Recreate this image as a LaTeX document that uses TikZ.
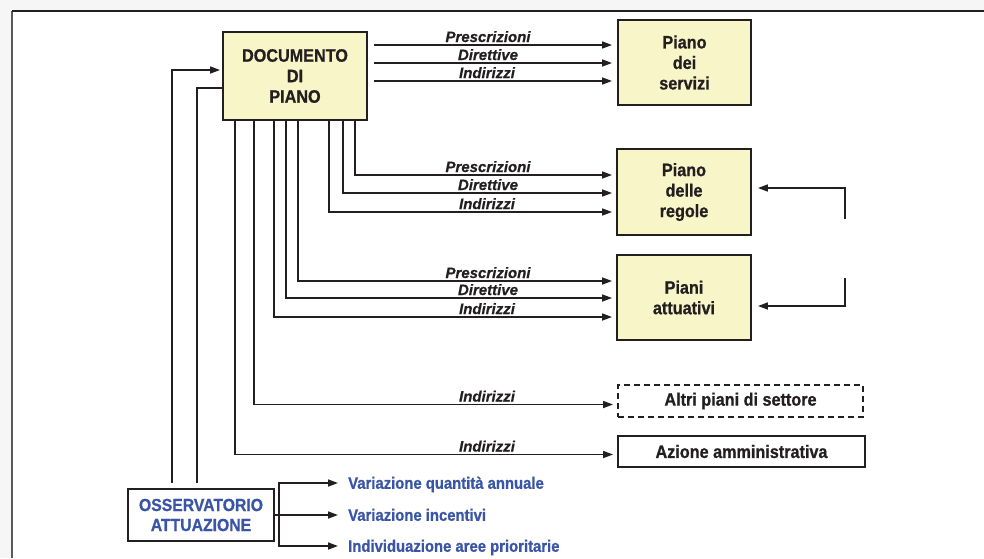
\documentclass[tikz,border=0pt]{standalone}
\usepackage{fontspec}
\setmainfont{Liberation Sans}[FakeStretch=0.9,BoldFeatures={FakeBold=0.8}]
\newfontfamily\lblfont{Liberation Sans}[BoldItalicFeatures={FakeBold=0.5}]
\usetikzlibrary{arrows.meta,calc}
\definecolor{boxfill}{HTML}{F8F5C8}
\definecolor{ink}{HTML}{231F20}
\definecolor{obsblue}{HTML}{3A55A5}
\begin{document}
\begin{tikzpicture}[x=1pt,y=-1pt,
 box/.style={draw=ink,line width=1.9pt,fill=boxfill,align=center,inner sep=0pt,font=\fontsize{18}{20.5}\selectfont\bfseries,text=ink},
 wbox/.style={draw=ink,line width=1.9pt,fill=white,inner sep=0pt,font=\fontsize{18}{20.5}\selectfont\bfseries,text=ink},
 conn/.style={draw=ink,line width=1.6pt},
 arr/.style={conn,-{Triangle[length=10pt,width=7pt]}},
 lbl/.style={font=\lblfont\fontsize{15}{15}\selectfont\bfseries\itshape,text=ink,inner sep=0pt,anchor=base},
 outtxt/.style={font=\fontsize{16.5}{18}\selectfont\bfseries,text=obsblue,inner sep=0pt,anchor=west,text height=11.5pt,text depth=0pt},
]
\useasboundingbox (0,0) rectangle (984,558);
\fill[gray!7] (0,0) rectangle (984,558);
\fill[white] (12,11) rectangle (984,558);
\draw[gray!70!black,line width=1.2pt] (12,558) -- (12,11);
\draw[ink,line width=1.4pt] (12,11) -- (984,11);

% boxes
\node[box,minimum width=144pt,minimum height=88pt] (doc) at (295,76) {DOCUMENTO\\DI\\PIANO};
\node[box,minimum width=133pt,minimum height=85pt] (serv) at (684.5,62.5) {Piano\\dei\\servizi};
\node[box,minimum width=134pt,minimum height=86pt] (reg) at (684,192) {Piano\\delle\\regole};
\node[box,minimum width=134pt,minimum height=85pt] (att) at (684,297.5) {Piani\\attuativi};
\node[wbox,dash pattern=on 6pt off 4pt,minimum width=245pt,minimum height=32pt] (altri) at (740.5,401) {Altri piani di settore};
\node[wbox,minimum width=247pt,minimum height=31pt] (az) at (741.5,451.5) {Azione amministrativa};
\node[wbox,align=center,text=obsblue,font=\fontsize{17.5}{20}\selectfont\bfseries,minimum width=146pt,minimum height=52pt] (oss) at (201,515) {OSSERVATORIO\\ATTUAZIONE};

% top arrows
\draw[arr,shorten <=6pt,shorten >=5pt] (doc.east |- 0,45) -- (serv.west |- 0,45);
\draw[arr,shorten <=6pt,shorten >=5pt] (doc.east |- 0,63) -- (serv.west |- 0,63);
\draw[arr,shorten <=6pt,shorten >=5pt] (doc.east |- 0,81) -- (serv.west |- 0,81);
\node[lbl] (lp1) at (488,42) {Prescrizioni};
\node[lbl] (ld1) at (488,60) {Direttive};
\node[lbl] (li1) at (487,78) {Indirizzi};

% piano delle regole
\draw[arr,shorten >=4pt] (doc.south -| 355,0) |- (reg.west |- 0,175);
\draw[arr,shorten >=4pt] (doc.south -| 343,0) |- (reg.west |- 0,193);
\draw[arr,shorten >=4pt] (doc.south -| 329,0) |- (reg.west |- 0,212);
\node[lbl] (lp2) at (488,172) {Prescrizioni};
\node[lbl] (ld2) at (488,190) {Direttive};
\node[lbl] (li2) at (487,209) {Indirizzi};

% piani attuativi
\draw[arr,shorten >=4pt] (doc.south -| 298,0) |- (att.west |- 0,281);
\draw[arr,shorten >=4pt] (doc.south -| 286,0) |- (att.west |- 0,298);
\draw[arr,shorten >=4pt] (doc.south -| 274,0) |- (att.west |- 0,317);
\node[lbl] (lp3) at (488,278) {Prescrizioni};
\node[lbl] (ld3) at (488,295) {Direttive};
\node[lbl] (li3) at (487,314) {Indirizzi};

% altri piani / azione
\draw[arr,shorten >=4pt] (doc.south -| 254,0) |- (altri.west |- 0,404.5);
\node[lbl] (li4) at (487,401.5) {Indirizzi};
\draw[arr,shorten >=4pt] (doc.south -| 235,0) |- (az.west |- 0,454.5);
\node[lbl] (li5) at (487,451.5) {Indirizzi};

% feedback on the right
\coordinate (f1) at (845,219);
\coordinate (f2) at (845,278);
\draw[arr,shorten >=6pt] (f1) |- (reg.east |- 0,188);
\draw[arr,shorten >=6pt] (f2) |- (att.east |- 0,306);

% osservatorio feedback
\coordinate (o1) at (172,483);
\coordinate (o2) at (197,483);
\draw[arr,shorten >=2pt] (o1) |- (doc.west |- 0,70);
\draw[conn] (o2) |- (doc.west |- 0,88);

% osservatorio outputs
\node[outtxt] (v1) at (348,483) {Variazione quantità annuale};
\node[outtxt] (v2) at (348,515) {Variazione incentivi};
\node[outtxt] (v3) at (348,546) {Individuazione aree prioritarie};
\coordinate (br) at (279,515);
\draw[conn] (oss.east) -- (br);
\draw[arr,shorten >=10pt] (br) |- (v1.west);
\draw[arr,shorten >=10pt] (br) -- (v2.west);
\draw[arr,shorten >=10pt] (br) |- (v3.west);
\end{tikzpicture}
\end{document}
